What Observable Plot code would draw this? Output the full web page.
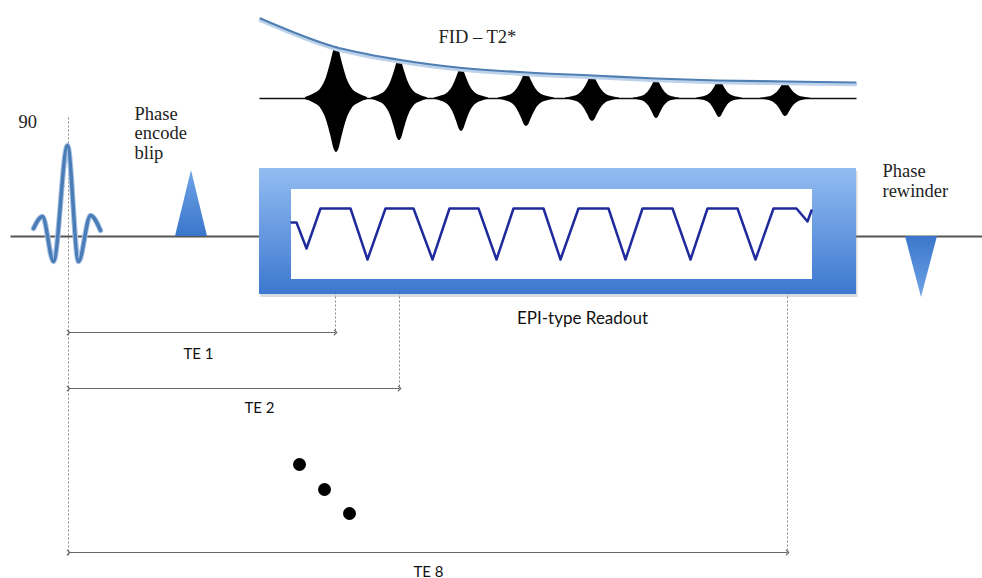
<!DOCTYPE html>
<html>
<head>
<meta charset="utf-8">
<script src="https://cdn.jsdelivr.net/npm/d3@7"></script>
<script src="https://cdn.jsdelivr.net/npm/@observablehq/plot@0.6"></script>
<style>
  html, body { margin: 0; padding: 0; background: #fff; }
  #chart svg { display: block; }
</style>
</head>
<body>
<div id="chart"></div>
<script>
// Multi-echo EPI sequence timing diagram.
// Horizontal axis: sequence time; vertical axis: channel rows (signal, RF/gradient, timing).
const W = 982, H = 578;

// Row levels
const rfBaseline = 236;     // RF / phase-gradient row
const echoBaseline = 98;    // signal (FID) row
const lineStart = 10;       // start of the RF row line

// 90° excitation pulse (sinc) – lobe extrema
const sincT = [33, 42, 53, 67, 78, 90, 100];
const sincLevel = [228, 216, 261, 145, 261, 215, 230];

// Phase-encode blip and phase rewinder (triangular gradients)
const blipT = [175, 191, 207];
const blipLevel = [236, 170, 236];
const rewinderT = [905, 921, 937];
const rewinderLevel = [236, 297, 236];

// EPI readout block
const readoutStart = 259, readoutEnd = 856;
const readoutTop = 168, readoutBottom = 294;
const windowStart = 291, windowEnd = 812;
const windowTop = 189, windowBottom = 279;

// Readout gradient waveform knots (plateaus and troughs)
const readoutT = [291, 296, 306, 320, 350, 367, 385, 413, 432, 449, 478, 496, 513, 543,
                  560, 578, 608, 625, 642, 672, 690, 707, 737, 755, 773, 796, 807, 811];
const readoutLevel = [222, 222, 248, 208, 208, 259, 208, 208, 259, 208, 208, 259, 208, 208,
                      259, 208, 208, 259, 208, 208, 259, 208, 208, 259, 208, 208, 221, 210];

// Gradient echoes: centres, positive/negative peak amplitudes, half widths
const echoTimes = [336, 399, 461, 526, 592, 656, 719, 785];
const echoUp = [52, 39, 30, 25, 23, 19, 18, 16];
const echoDown = [54, 42, 33, 28, 23, 20, 19, 18];
const echoHalfWidth = [31, 28, 27, 28, 27, 23, 23, 25];
// Echo envelope shape (fraction of half width, fraction of peak)
const echoHalfProfile = [[-1, 0.02], [-0.75, 0.08], [-0.5, 0.19], [-0.33, 0.39], [-0.18, 0.7], [-0.07, 0.95], [0, 1]];

// T2* decay envelope
const t2T = [260, 333, 397, 457, 527, 592, 655, 717, 785, 855];
const t2Level = [18, 46, 59, 67, 72, 75, 78, 80, 81, 82];

// Echo-time markers
const teLabels = ["TE 1", "TE 2", "TE 8"];
const teTimes = [335, 399, 787];
const teArrowLevel = [332, 388, 552];
const teLabelT = [198, 259, 428];
const teLabelLevel = [358, 412, 576];
const pulseTime = 68;
const plateauLevel = 208;

// Ellipsis dots between TE 2 and TE 8
const dotT = [299, 324, 349];
const dotLevel = [464, 489, 513];

// ---- derived tables ----
const sinc = sincT.map((t, i) => ({t, v: sincLevel[i]}));
const blip = blipT.map((t, i) => ({t, v: blipLevel[i]}));
const rewinder = rewinderT.map((t, i) => ({t, v: rewinderLevel[i]}));
const readout = readoutT.map((t, i) => ({t, v: readoutLevel[i]}));
const t2 = t2T.map((t, i) => ({t, v: t2Level[i]}));
const echoProfile = echoHalfProfile.concat(echoHalfProfile.slice(0, -1).reverse().map(([u, p]) => [-u, p]));
const echoes = echoTimes.flatMap((c, i) => echoProfile.map(([u, p]) => ({
  echo: i,
  t: c + u * echoHalfWidth[i],
  top: echoBaseline - echoUp[i] * p,
  bottom: echoBaseline + echoDown[i] * p
})));
const te = teLabels.map((label, i) => ({
  label, t: teTimes[i], arrow: teArrowLevel[i], lx: teLabelT[i], ly: teLabelLevel[i]
}));
const markerLines = [{t: pulseTime, y1: 117, y2: 556}]
  .concat(te.map(d => ({t: d.t, y1: plateauLevel, y2: d.arrow})));
const dots = dotT.map((t, i) => ({t, v: dotLevel[i]}));
const box = [{x1: readoutStart, x2: readoutEnd, y1: readoutTop, y2: readoutBottom}];
const win = [{x1: windowStart, x2: windowEnd, y1: windowTop, y2: windowBottom}];

const serif = "Liberation Serif, Times New Roman, serif";
const sans = "Lato, Open Sans, sans-serif";

const chart = Plot.plot({
  width: W,
  height: H,
  margin: 0,
  style: {background: "#fff", overflow: "visible"},
  x: {domain: [0, W], axis: null},
  y: {domain: [H, 0], axis: null},
  marks: [
    // RF / gradient baseline
    Plot.link([{x1: lineStart, x2: W}], {x1: "x1", x2: "x2", y1: rfBaseline, y2: rfBaseline, stroke: "#555", strokeWidth: 2}),
    // timing marker lines
    Plot.link(markerLines, {x1: "t", x2: "t", y1: "y1", y2: "y2", stroke: "#8a8a8a", strokeWidth: 1, strokeDasharray: "2,2"}),
    // 90° sinc pulse
    Plot.line(sinc, {x: "t", y: "v", stroke: "#a9c3e3", strokeWidth: 5.5, curve: "monotone-x"}),
    Plot.line(sinc, {x: "t", y: "v", stroke: "#4a7cb8", strokeWidth: 3.5, curve: "monotone-x"}),
    // phase encode blip and rewinder
    Plot.areaY(blip, {x: "t", y1: rfBaseline, y2: "v", fill: "url(#gradBlue)"}),
    Plot.areaY(rewinder, {x: "t", y1: rfBaseline, y2: "v", fill: "url(#gradBlueDown)"}),
    // readout block with shadow
    Plot.rect(box, {x1: "x1", x2: "x2", y1: "y1", y2: "y2", fill: "#7d8796", fillOpacity: 0.3, dx: 1.5, dy: 3}),
    Plot.rect(box, {x1: "x1", x2: "x2", y1: "y1", y2: "y2", fill: "url(#gradBox)"}),
    Plot.rect(win, {x1: "x1", x2: "x2", y1: "y1", y2: "y2", fill: "#fff"}),
    // readout gradient
    Plot.line(readout, {x: "t", y: "v", stroke: "#1f2a9c", strokeWidth: 2.5, strokeLinejoin: "round"}),
    // signal row baseline and echoes
    Plot.link([{x1: readoutStart, x2: readoutEnd}], {x1: "x1", x2: "x2", y1: echoBaseline, y2: echoBaseline, stroke: "#111", strokeWidth: 1.3}),
    Plot.areaY(echoes, {x: "t", y1: "top", y2: "bottom", z: "echo", fill: "#000", curve: "monotone-x"}),
    // T2* envelope
    Plot.line(t2, {x: "t", y: "v", stroke: "#bcd2ea", strokeWidth: 3.5, dy: 2, curve: "monotone-x"}),
    Plot.line(t2, {x: "t", y: "v", stroke: "#4f7fb3", strokeWidth: 2.2, curve: "monotone-x"}),
    // echo-time arrows
    Plot.link(te, {x1: pulseTime, x2: "t", y1: "arrow", y2: "arrow", stroke: "#666", strokeWidth: 1.2,
      markerStart: "arrow", markerEnd: "arrow"}),
    Plot.text(te, {x: "lx", y: "ly", text: "label", fontFamily: sans, fontSize: 15, fill: "#111", lineAnchor: "bottom"}),
    // ellipsis dots
    Plot.dot(dots, {x: "t", y: "v", r: 6.5, fill: "#000"}),
    // labels
    Plot.text(["90"], {x: 18, y: 127, text: d => d, textAnchor: "start", lineAnchor: "bottom", fontFamily: serif, fontSize: 18.5, fill: "#222"}),
    Plot.text(["Phase\nencode\nblip"], {x: 134, y: 119, text: d => d, textAnchor: "start", lineAnchor: "top", lineHeight: 1.07,
      dy: -14, fontFamily: serif, fontSize: 18.5, fill: "#222"}),
    Plot.text(["FID – T2*"], {x: 438, y: 42, text: d => d, textAnchor: "start", lineAnchor: "bottom", fontFamily: serif, fontSize: 18.5, fill: "#222"}),
    Plot.text(["Phase\nrewinder"], {x: 882, y: 175, text: d => d, textAnchor: "start", lineAnchor: "top", lineHeight: 1.08,
      dy: -13, fontFamily: serif, fontSize: 18.5, fill: "#222"}),
    Plot.text(["EPI-type Readout"], {x: 582, y: 323, text: d => d, lineAnchor: "bottom", fontFamily: sans, fontSize: 17, fill: "#111"})
  ]
});

// colour gradients for the gradient lobes and readout block
const defs = d3.select(chart).insert("defs", ":first-child");
function vgrad(id, top, bottom) {
  const g = defs.append("linearGradient").attr("id", id).attr("x1", 0).attr("y1", 0).attr("x2", 0).attr("y2", 1);
  g.append("stop").attr("offset", "0%").attr("stop-color", top);
  g.append("stop").attr("offset", "100%").attr("stop-color", bottom);
}
vgrad("gradBox", "#93bcf2", "#3c78cf");
vgrad("gradBlue", "#6fa3e6", "#3a76cb");
vgrad("gradBlueDown", "#3a76cb", "#6fa3e6");

document.getElementById("chart").appendChild(chart);
</script>
</body>
</html>
